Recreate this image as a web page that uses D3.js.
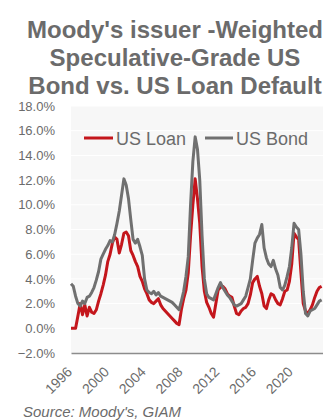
<!DOCTYPE html>
<html>
<head>
<meta charset="utf-8">
<script src="https://cdn.jsdelivr.net/npm/d3@7"></script>
<style>
html,body{margin:0;padding:0;background:#fff;}
svg{display:block;font-family:"Liberation Sans",Arial,sans-serif;}
</style>
</head>
<body>
<svg id="chart" width="323" height="420"></svg>
<script>
const titleLines = ["Moody's issuer -Weighted", "Speculative-Grade US", "Bond vs. US Loan Default"];
const seriesNames = ["US Loan", "US Bond"];
const dates = [
1996.0,1996.25,1996.5,1996.75,1997.0,1997.25,1997.5,1997.75,1998.0,1998.25,1998.5,1998.75,
1999.0,1999.25,1999.5,1999.75,2000.0,2000.25,2000.5,2000.75,2001.0,2001.25,2001.5,2001.75,
2002.0,2002.25,2002.5,2002.75,2003.0,2003.25,2003.5,2003.75,2004.0,2004.25,2004.5,2004.75,
2005.0,2005.25,2005.5,2005.75,2006.0,2006.25,2006.5,2006.75,2007.0,2007.25,2007.5,2007.75,
2008.0,2008.25,2008.5,2008.75,2009.0,2009.25,2009.5,2009.75,2010.0,2010.25,2010.5,2010.75,
2011.0,2011.25,2011.5,2011.75,2012.0,2012.25,2012.5,2012.75,2013.0,2013.25,2013.5,2013.75,
2014.0,2014.25,2014.5,2014.75,2015.0,2015.25,2015.5,2015.75,2016.0,2016.25,2016.5,2016.75,
2017.0,2017.25,2017.5,2017.75,2018.0,2018.25,2018.5,2018.75,2019.0,2019.25,2019.5,2019.75,
2020.0,2020.25,2020.5,2020.75,2021.0,2021.25,2021.5,2021.75,2022.0,2022.25,2022.5,2022.75,
2023.0,2023.25];
const loanValues = [
0.0,0.0,0.0,1.0,2.0,1.1,1.9,1.0,1.7,1.3,1.2,1.5,
2.2,2.8,3.5,4.3,5.4,6.0,6.9,7.4,7.2,6.1,6.8,7.7,
7.8,7.5,6.3,5.9,5.4,5.0,4.2,3.8,3.2,2.8,2.3,2.1,
2.0,2.2,2.4,1.9,1.6,1.4,1.2,1.0,0.8,0.6,0.4,0.3,
1.5,2.4,3.1,4.5,7.5,10.0,12.1,10.5,8.5,5.0,3.0,2.1,
1.7,1.2,0.9,2.0,3.1,3.3,3.4,3.2,2.8,2.6,2.5,1.8,
1.2,1.1,1.4,1.6,1.7,2.0,2.7,3.7,4.0,4.2,3.4,2.8,
1.8,1.6,2.3,2.8,2.7,2.3,2.0,1.9,2.4,3.0,3.1,3.8,
5.2,7.7,7.4,7.2,4.5,2.0,1.4,1.2,1.5,1.9,2.5,3.0,
3.3,3.4];
const bondValues = [
3.6,3.4,2.6,2.0,1.8,2.2,2.0,2.5,2.6,2.9,3.3,3.9,
4.6,5.6,6.0,6.4,6.7,7.1,7.0,7.6,8.5,9.5,10.8,12.1,
11.6,10.5,8.8,7.2,6.9,7.2,6.6,5.9,4.0,3.1,2.9,2.8,
3.0,2.7,2.9,2.6,2.5,2.4,2.3,2.2,2.1,1.9,1.7,1.5,
2.2,3.0,4.2,5.8,10.0,13.5,15.5,14.5,12.0,7.5,4.0,2.8,
2.5,2.4,2.3,2.8,3.3,3.7,3.3,3.0,2.7,2.5,2.2,1.9,
1.8,1.9,2.0,2.3,2.6,3.3,4.0,5.5,6.9,7.3,7.6,8.4,
6.5,5.7,5.2,5.0,5.5,4.8,4.3,3.3,3.1,3.5,4.2,5.0,
6.5,8.5,8.2,8.0,6.0,3.0,1.2,1.0,1.4,1.5,1.6,1.9,
2.2,2.3];
const yTicks = [-2,0,2,4,6,8,10,12,14,16,18];
const xTicks = [1996,2000,2004,2008,2012,2016,2020];
const sourceText = "Source: Moody's, GIAM";

const svg = d3.select("#chart");
const mLeft = 71, mRight = 323, mTop = 106, mBottom = 353;
const x = d3.scaleLinear().domain([1996, 2023.4]).range([mLeft, mRight]);
const y = d3.scaleLinear().domain([-2, 18]).range([mBottom, mTop]);

// title
svg.append("g").selectAll("text").data(titleLines).join("text")
  .attr("x", 175).attr("y", (d,i) => 38 + i*28)
  .attr("text-anchor", "middle")
  .attr("font-size", 24).attr("font-weight", "bold").attr("fill", "#6b6b6b")
  .text(d => d);

// plot background
svg.append("rect").attr("x", mLeft).attr("y", mTop).attr("width", mRight-mLeft).attr("height", mBottom-mTop).attr("fill", "#f7f7f7");

// gridlines
svg.append("g").selectAll("line").data(yTicks.filter(d => d > -2)).join("line")
  .attr("x1", mLeft).attr("x2", mRight)
  .attr("y1", d => y(d)).attr("y2", d => y(d))
  .attr("stroke", "#ffffff").attr("stroke-width", 1);

// y axis labels
const yAxis = d3.axisLeft(y).tickValues(yTicks).tickSize(0).tickPadding(0)
  .tickFormat(d => d3.format(".1f")(d) + "%");
const yg = svg.append("g").attr("transform", `translate(${55},0)`).call(yAxis);
yg.select(".domain").remove();
yg.selectAll("text").attr("font-size", 13).attr("fill", "#6b6b6b").attr("font-family", '"Liberation Sans",Arial,sans-serif');

// x axis
const xAxis = d3.axisBottom(x).tickValues(xTicks).tickSize(0).tickFormat(d3.format("d"));
const xg = svg.append("g").attr("transform", `translate(0,${mBottom})`).call(xAxis);
xg.select(".domain").attr("stroke", "#8c8c8c").attr("stroke-width", 1.5);
xg.selectAll("text")
  .attr("font-size", 14).attr("fill", "#6b6b6b").attr("font-family", '"Liberation Sans",Arial,sans-serif')
  .attr("text-anchor", "end")
  .attr("dy", null).attr("y", 0)
  .attr("transform", "translate(-1,17) rotate(-45)")
  .attr("dominant-baseline", "middle");

// lines
const line = vals => d3.line().x((d,i) => x(dates[i])).y(d => y(d))(vals);
svg.append("path").attr("d", line(loanValues)).attr("fill", "none")
  .attr("stroke", "#c4161c").attr("stroke-width", 3).attr("stroke-linejoin", "round");
svg.append("path").attr("d", line(bondValues)).attr("fill", "none")
  .attr("stroke", "#707070").attr("stroke-width", 3).attr("stroke-linejoin", "round");

// legend
const legend = [
  {name: seriesNames[0], color: "#c4161c", x1: 84, x2: 113, tx: 116},
  {name: seriesNames[1], color: "#707070", x1: 205, x2: 233, tx: 236}
];
const lg = svg.append("g");
legend.forEach(l => {
  lg.append("line").attr("x1", l.x1).attr("x2", l.x2).attr("y1", 138).attr("y2", 138)
    .attr("stroke", l.color).attr("stroke-width", 3);
  lg.append("text").attr("x", l.tx).attr("y", 144.5).attr("font-size", 18).attr("fill", "#6b6b6b").text(l.name);
});

// source
svg.append("text").attr("x", 23).attr("y", 417).attr("font-size", 15)
  .attr("font-style", "italic").attr("fill", "#6b6b6b").text(sourceText);
</script>
</body>
</html>
